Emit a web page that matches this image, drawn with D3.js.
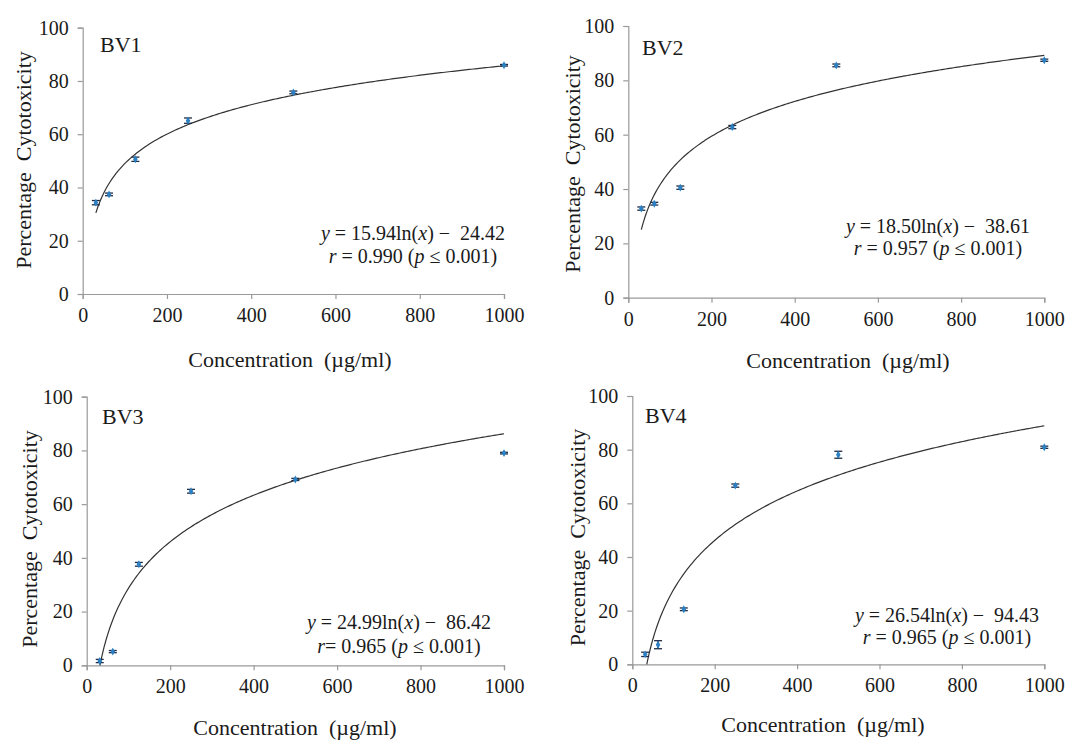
<!DOCTYPE html>
<html>
<head>
<meta charset="utf-8">
<script src="https://cdn.jsdelivr.net/npm/d3@7"></script>
<style>
  html, body { margin: 0; padding: 0; background: #fff; }
  svg, svg text { font-family: "Liberation Serif", "Times New Roman", "DejaVu Serif", serif; }
</style>
</head>
<body>
<svg id="chart" width="1086" height="740"></svg>
<script>
// ---------------- DATA ----------------
const panelNames = ["BV1", "BV2", "BV3", "BV4"];
const concentrations = [31.25, 62.5, 125, 250, 500, 1000];
const bv1Values = [34.3, 37.4, 50.6, 65.1, 75.7, 85.9];
const bv2Values = [32.8, 34.6, 40.5, 62.8, 85.5, 87.4];
const bv3Values = [1.6, 5.1, 37.6, 64.8, 69.2, 79.0];
const bv4Values = [3.7, 7.3, 20.5, 66.6, 78.1, 80.9];
const bv1Errors = [0.8, 0.5, 0.8, 1.0, 0.5, 0.3];
const bv2Errors = [0.6, 0.5, 0.6, 0.6, 0.5, 0.4];
const bv3Errors = [0.6, 0.4, 0.7, 0.7, 0.4, 0.3];
const bv4Errors = [0.8, 1.5, 0.5, 0.6, 1.3, 0.4];
const fitSlopes = [15.94, 18.50, 24.99, 26.54];
const fitIntercepts = [24.42, 38.61, 86.42, 94.43];
const rLabels = ["r = ", "r = ", "r= ", "r = "];
const rValues = ["0.990", "0.957", "0.965", "0.965"];
const pLabel = "0.001";
const xTicks = [0, 200, 400, 600, 800, 1000];
const yTicks = [0, 20, 40, 60, 80, 100];
const xTitle = "Concentration\u00A0 (\u00B5g/ml)";
const yTitle = "Percentage\u00A0 Cytotoxicity";

const seriesValues = [bv1Values, bv2Values, bv3Values, bv4Values];
const seriesErrors = [bv1Errors, bv2Errors, bv3Errors, bv4Errors];

// ---------------- LAYOUT ----------------
const FONT = '"Liberation Serif", "Times New Roman", "DejaVu Serif", serif';
const frames = [
  {l: 82.7, t: 27.7, r: 504, b: 294, nameX: 100, nameY: 52, eqX: 413, eqY: 240, eqDy: 23, xtX: 290, xtY: 367, ytX: 23, ytY: 160},
  {l: 628.3, t: 26, r: 1044.3, b: 297.7, nameX: 642, nameY: 55, eqX: 938, eqY: 233, eqDy: 22, xtX: 848, xtY: 368, ytX: 572, ytY: 164},
  {l: 86.7, t: 396.7, r: 504, b: 665.3, nameX: 102, nameY: 424, eqX: 399, eqY: 629, eqDy: 24, xtX: 295, xtY: 735, ytX: 29, ytY: 539},
  {l: 632.3, t: 396, r: 1044.3, b: 664.3, nameX: 645, nameY: 423, eqX: 947, eqY: 622, eqDy: 22, xtX: 823, xtY: 732, ytX: 577, ytY: 537.5}
];

const axisColor = "#9a9a9a";
const textColor = "#1a1a1a";
const markerColor = "#2b80c4";
const errColor = "#1d2a44";

const svg = d3.select("#chart").attr("font-family", FONT);

frames.forEach((f, i) => {
  const g = svg.append("g").attr("font-family", FONT);
  const x = d3.scaleLinear().domain([0, 1000]).range([f.l, f.r]);
  const y = d3.scaleLinear().domain([0, 100]).range([f.b, f.t]);

  // axes
  const xAxis = d3.axisBottom(x).tickValues(xTicks).tickSize(5).tickPadding(9).tickFormat(d3.format("d"));
  const yAxis = d3.axisLeft(y).tickValues(yTicks).tickSize(5).tickPadding(9).tickFormat(d3.format("d"));
  const gx = g.append("g").attr("transform", `translate(0,${f.b})`).call(xAxis);
  const gy = g.append("g").attr("transform", `translate(${f.l},0)`).call(yAxis);
  [gx, gy].forEach(a => {
    a.attr("font-family", FONT).attr("font-size", 20);
    a.select(".domain").attr("stroke", axisColor).attr("stroke-width", 1.2);
    a.selectAll(".tick line").attr("stroke", axisColor).attr("stroke-width", 1.2);
    a.selectAll(".tick text").attr("fill", textColor).attr("font-family", FONT).attr("font-size", 20);
  });
  gx.selectAll(".tick text").attr("dy", "0.71em");

  // fitted log curve
  const slope = fitSlopes[i], icpt = fitIntercepts[i];
  const x0 = Math.max(concentrations[0], Math.exp(icpt / slope));
  const xs = d3.range(0, 201).map(k => x0 + (1000 - x0) * k / 200);
  const line = d3.line().x(d => x(d)).y(d => y(slope * Math.log(d) - icpt));
  g.append("path").datum(xs).attr("d", line)
    .attr("fill", "none").attr("stroke", "#333").attr("stroke-width", 1.2);

  // error bars
  const vals = seriesValues[i], errs = seriesErrors[i];
  const pts = concentrations.map((c, k) => ({c, v: vals[k], e: errs[k]}));
  const eb = g.append("g").attr("stroke", errColor).attr("stroke-width", 1.3);
  pts.forEach(p => {
    const cx = x(p.c), y1 = y(p.v + p.e), y2 = y(p.v - p.e);
    eb.append("line").attr("x1", cx).attr("x2", cx).attr("y1", y1).attr("y2", y2);
    eb.append("line").attr("x1", cx - 4).attr("x2", cx + 4).attr("y1", y1).attr("y2", y1);
    eb.append("line").attr("x1", cx - 4).attr("x2", cx + 4).attr("y1", y2).attr("y2", y2);
  });

  // markers (diamonds)
  g.selectAll("path.marker").data(pts).enter().append("path")
    .attr("class", "marker")
    .attr("d", d3.symbol().type(d3.symbolDiamond).size(18))
    .attr("transform", d => `translate(${x(d.c)},${y(d.v)})`)
    .attr("fill", markerColor);

  // panel name
  g.append("text").attr("x", f.nameX).attr("y", f.nameY)
    .attr("fill", textColor).attr("font-size", 22).text(panelNames[i]);

  // equation
  const eq = g.append("text").attr("x", f.eqX).attr("y", f.eqY)
    .attr("text-anchor", "middle").attr("fill", textColor).attr("font-size", 20);
  eq.append("tspan").attr("font-style", "italic").text("y");
  eq.append("tspan").text(" = " + fitSlopes[i].toFixed(2) + "ln(");
  eq.append("tspan").attr("font-style", "italic").text("x");
  eq.append("tspan").text(") \u2212\u00A0 " + fitIntercepts[i].toFixed(2));

  const rt = g.append("text").attr("x", f.eqX).attr("y", f.eqY + f.eqDy)
    .attr("text-anchor", "middle").attr("fill", textColor).attr("font-size", 20);
  rt.append("tspan").attr("font-style", "italic").text(rLabels[i].slice(0, 1));
  rt.append("tspan").text(rLabels[i].slice(1) + rValues[i] + " (");
  rt.append("tspan").attr("font-style", "italic").text("p");
  rt.append("tspan").text(" \u2264 " + pLabel + ")");

  // axis titles
  g.append("text").attr("x", f.xtX).attr("y", f.xtY).attr("text-anchor", "middle")
    .attr("fill", textColor).attr("font-size", 22).text(xTitle);
  g.append("text").attr("transform", `translate(${f.ytX},${f.ytY}) rotate(-90)`)
    .attr("text-anchor", "middle").attr("dominant-baseline", "central")
    .attr("fill", textColor).attr("font-size", 22).text(yTitle);
});
</script>
</body>
</html>
